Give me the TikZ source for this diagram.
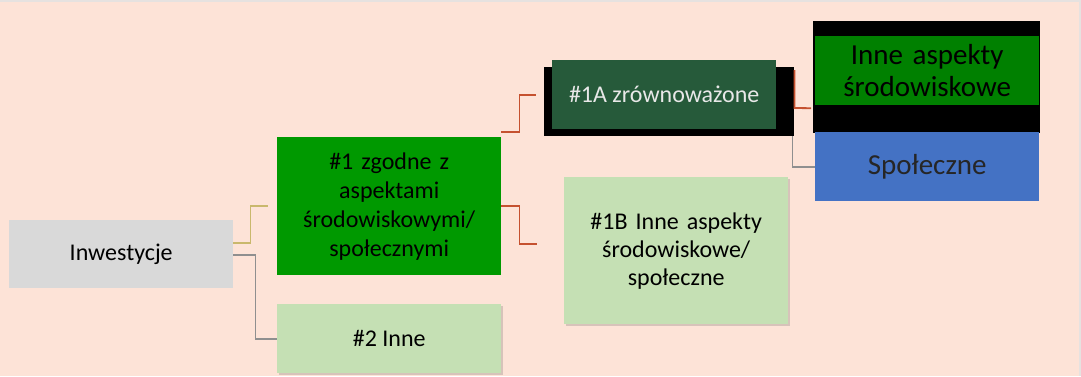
\documentclass[tikz,border=0pt]{standalone}
\usepackage{fontspec}
\setmainfont{Carlito}
\usetikzlibrary{shadows}
\definecolor{bgpeach}{HTML}{FDE3D7}
\definecolor{edgegray}{HTML}{E6E2E0}
\definecolor{inwgray}{HTML}{D9D9D9}
\definecolor{brightgreen}{HTML}{009900}
\definecolor{darkgreen}{HTML}{265A3A}
\definecolor{midgreen}{HTML}{008000}
\definecolor{lightgreen}{HTML}{C5E0B4}
\definecolor{blue1}{HTML}{4472C4}
\definecolor{lineyellow}{HTML}{C9B86C}
\definecolor{linegray}{HTML}{8F8F8F}
\definecolor{linered}{HTML}{C5512F}
\definecolor{paletext}{HTML}{E8E8E8}
\tikzset{
  box/.style={anchor=north west, inner sep=0pt, align=center, font=\fontsize{24}{29}\selectfont},
  bigtext/.style={font=\fontsize{29}{32}\selectfont},
  softshadow/.style={drop shadow={opacity=0.25, shadow xshift=2pt, shadow yshift=-2pt, fill=black!60}},
  conn/.style={line width=1.8pt},
}
\begin{document}
\begin{tikzpicture}[x=1pt,y=-1pt]
\fill[bgpeach] (0,0) rectangle (1081,376);
\fill[edgegray] (0,0) rectangle (1081,2);
\fill[edgegray] (1079,0) rectangle (1081,376);
\useasboundingbox (0,0) rectangle (1081,376);

% nodes
\node[box, fill=inwgray, minimum width=224pt, minimum height=68pt] (inw) at (9,220) {Inwestycje};
\node[box, fill=brightgreen, minimum width=224pt, minimum height=138pt, text width=220pt] (n1) at (277,137) {\#1 zgodne z\\aspektami\\środowiskowymi/\\społecznymi};
\node[box, fill=lightgreen, softshadow, minimum width=224pt, minimum height=69pt] (n2) at (277,304) {\#2 Inne};
\node[box, fill=black, minimum width=250pt, minimum height=69pt] (n1ash) at (544,67) {};
\node[box, fill=darkgreen, text=paletext, minimum width=224pt, minimum height=69pt] (n1a) at (552,60) {\#1A zrównoważone};
\node[box, fill=lightgreen, softshadow, minimum width=224pt, minimum height=147pt, text width=220pt, font=\fontsize{24}{28}\selectfont] (n1b) at (564,177) {\#1B Inne aspekty\\środowiskowe/\\społeczne};
\node[box, fill=black, minimum width=227pt, minimum height=112pt] (innebk) at (813,21) {};
\node[box, bigtext, fill=midgreen, minimum width=224pt, minimum height=69pt, text width=220pt] (inne) at (815,36) {Inne aspekty\\środowiskowe};
\node[box, bigtext, fill=blue1, minimum width=224pt, minimum height=69pt, text=black!85] (spol) at (815,132) {Społeczne};

% connectors
\draw[conn, lineyellow] ([yshift=11pt]inw.east) -- ++(17,0) |- ([xshift=-9pt]n1.west);
\draw[conn, linegray] ([yshift=-1pt]inw.east) -- ++(22,0) |- (n2.west);
\draw[conn, linered] ([yshift=5pt]n1.north east) -- ++(18,0) |- ([xshift=-16pt]n1a.west);
\draw[conn, linered] (n1.east) -- ++(18,0) |- ([xshift=-27pt,yshift=6.5pt]n1b.west);
\draw[conn, linered] ([yshift=-3pt]n1ash.north east) -- ++(0,38) -- ([yshift=-37.5pt,xshift=-4pt]inne.west);
\draw[conn, linegray] ([xshift=-2pt]n1ash.south east) |- (spol.west);
\end{tikzpicture}
\end{document}
